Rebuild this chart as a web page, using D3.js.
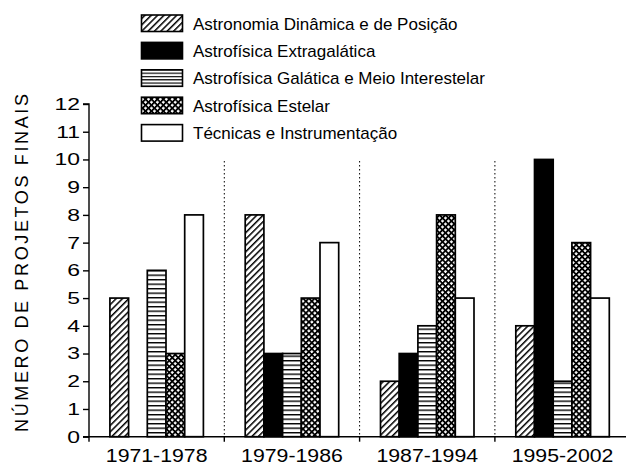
<!DOCTYPE html>
<html><head><meta charset="utf-8">
<script src="https://cdn.jsdelivr.net/npm/d3@7"></script>
<style>body{margin:0;background:#fff}svg{display:block;font-family:"Liberation Sans",Arial,sans-serif}</style>
</head><body>
<svg id="c" width="626" height="465"></svg>
<script>
const periods = ["1971-1978","1979-1986","1987-1994","1995-2002"];
const series = ["Astronomia Dinâmica e de Posição","Astrofísica Extragalática","Astrofísica Galática e Meio Interestelar","Astrofísica Estelar","Técnicas e Instrumentação"];
const dinamica = [5,8,2,4];
const extragalactica = [0,3,3,10];
const galactica = [6,3,4,2];
const estelar = [3,5,8,7];
const tecnicas = [8,7,5,5];
const yTicks = [0,1,2,3,4,5,6,7,8,9,10,11,12];
const yTitle = "NÚMERO DE PROJETOS FINAIS";

const values = [dinamica, extragalactica, galactica, estelar, tecnicas];
const fills = ["url(#pDiag)","#000","url(#pHoriz)","url(#pCross)","#fff"];
const legendFills = ["url(#pDiag)","#000","url(#pHorizL)","url(#pCross)","#fff"];

const svg = d3.select("#c");
const defs = svg.append("defs");
function pat(id, size, rot, lines, sw){
  const p = defs.append("pattern").attr("id",id).attr("patternUnits","userSpaceOnUse")
    .attr("width",size).attr("height",size);
  if(rot) p.attr("patternTransform",`rotate(${rot})`);
  p.append("rect").attr("width",size).attr("height",size).attr("fill","#fff");
  lines.forEach(l=>p.append("line").attr("x1",l[0]).attr("y1",l[1]).attr("x2",l[2]).attr("y2",l[3])
    .attr("stroke","#000").attr("stroke-width",sw));
}
pat("pDiag", 4.5, 45, [[0.75,0,0.75,4.5]], 1.5);
pat("pHoriz", 4.5, 0, [[0,0.7,4.5,0.7]], 1.4);
pat("pHorizL", 3.3, 0, [[0,0.6,3.3,0.6]], 1.2);
pat("pCross", 4.2, 45, [[0.9,0,0.9,4.2],[0,0.9,4.2,0.9]], 1.8);

const x0 = d3.scaleBand().domain(periods).range([89, 89+4*135.3]).paddingInner(0).paddingOuter(0);
const x1 = d3.scaleBand().domain(d3.range(series.length)).range([0, x0.bandwidth()]).paddingInner(0).paddingOuter(1.118);
const y = d3.scaleLinear().domain([0,12]).range([436.7,104]);

// separators
svg.append("g").selectAll("line").data(periods.slice(1)).join("line")
  .attr("x1",d=>x0(d)).attr("x2",d=>x0(d)).attr("y1",161).attr("y2",y(0))
  .attr("stroke","#000").attr("stroke-width",1).attr("stroke-dasharray","1.5,2.5");

// bars
const g = svg.append("g");
periods.forEach((p,pi)=>{
  series.forEach((s,si)=>{
    const v = values[si][pi];
    if(v<=0) return;
    g.append("rect").attr("x",x0(p)+x1(si)).attr("width",x1.bandwidth())
      .attr("y",y(v)).attr("height",y(0)-y(v))
      .attr("fill",fills[si]).attr("stroke","#000").attr("stroke-width",1.7);
  });
});

// y axis
const ya = svg.append("g").attr("transform","translate(89,0)")
  .call(d3.axisLeft(y).tickValues(yTicks).tickSize(6).tickPadding(6).tickFormat(d3.format("d")));
ya.select(".domain").attr("stroke-width",1.4).attr("d",`M0,${y(12)}H-6H0V${y(0)}`);
ya.selectAll(".tick line").attr("stroke-width",1.4);
ya.selectAll(".tick text").attr("font-size",17).attr("fill","#000")
  .attr("transform","scale(1.35,1)").attr("x",-9/1.35);

// x axis
svg.append("line").attr("x1",83).attr("x2",626).attr("y1",y(0)).attr("y2",y(0)).attr("stroke","#000").attr("stroke-width",1.4);
svg.append("g").selectAll("line").data(periods).join("line")
  .attr("x1",d=>x0(d)).attr("x2",d=>x0(d)).attr("y1",y(0)).attr("y2",y(0)+5)
  .attr("stroke","#000").attr("stroke-width",1.4);
svg.append("g").selectAll("text").data(periods).join("text")
  .attr("transform",d=>`translate(${x0(d)+x0.bandwidth()/2},462) scale(1.15,1)`)
  .attr("text-anchor","middle").attr("font-size",18.5).text(d=>d);

// y title
svg.append("text").attr("transform",`translate(28,263) rotate(-90)`)
  .attr("text-anchor","middle").attr("font-size",18).attr("textLength",338).attr("lengthAdjust","spacing")
  .text(yTitle);

// legend
const lg = svg.append("g");
series.forEach((s,i)=>{
  const ty = 15 + i*27.4;
  lg.append("rect").attr("x",141.5).attr("y",ty).attr("width",41).attr("height",16.5)
    .attr("fill",legendFills[i]).attr("stroke","#000").attr("stroke-width",1.6);
  lg.append("text").attr("x",193).attr("y",ty+14.5).attr("font-size",17).text(s);
});
</script>
</body></html>
